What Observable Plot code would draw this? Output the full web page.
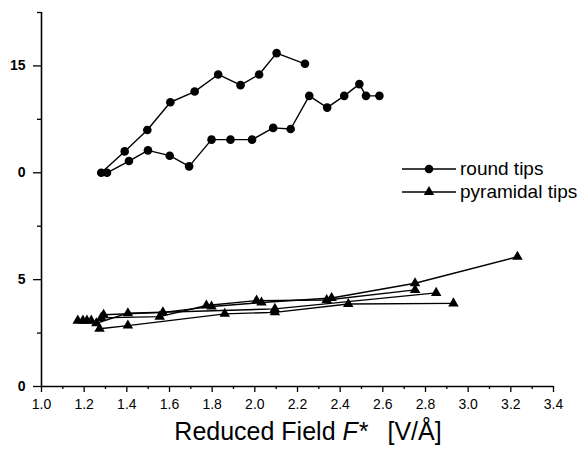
<!DOCTYPE html>
<html>
<head>
<meta charset="utf-8">
<script src="https://cdn.jsdelivr.net/npm/d3@7"></script>
<script src="https://cdn.jsdelivr.net/npm/@observablehq/plot@0.6"></script>
<style>
  html, body { margin: 0; padding: 0; background: #fff; }
  #chart svg { display: block; }
</style>
</head>
<body>
<div id="chart"></div>
<script>
// ---- data ----
const roundA_x = [1.280, 1.390, 1.496, 1.604, 1.718, 1.828, 1.933, 2.020, 2.102, 2.235];
const roundA_y = [10.0, 11.0, 12.0, 13.3, 13.8, 14.6, 14.1, 14.6, 15.6, 15.1];
const roundB_x = [1.307, 1.410, 1.499, 1.601, 1.692, 1.797, 1.886, 1.987, 2.086, 2.168, 2.255, 2.339, 2.419, 2.490, 2.521, 2.584];
const roundB_y = [10.0, 10.55, 11.05, 10.8, 10.3, 11.55, 11.55, 11.55, 12.1, 12.05, 13.6, 13.05, 13.6, 14.15, 13.6, 13.6];

const pyr1_x = [1.291, 1.569, 1.797, 2.031, 2.360, 2.751, 3.231];
const pyr1_y = [3.36, 3.47, 3.74, 3.93, 4.14, 4.83, 6.07];
const pyr2_x = [1.280, 1.554, 1.773, 2.008, 2.337, 2.751];
const pyr2_y = [3.21, 3.27, 3.79, 4.02, 4.05, 4.52];
const pyr3_x = [1.170, 1.194, 1.213, 1.233, 1.257, 1.405, 2.094, 2.850];
const pyr3_y = [3.08, 3.08, 3.08, 3.08, 2.96, 3.43, 3.63, 4.38];
const pyr4_x = [1.272, 1.405, 1.859, 2.094, 2.438, 2.931];
const pyr4_y = [2.70, 2.85, 3.40, 3.47, 3.86, 3.89];

const xTicks = [1.0, 1.2, 1.4, 1.6, 1.8, 2.0, 2.2, 2.4, 2.6, 2.8, 3.0, 3.2, 3.4];
const xTickLabels = ["1.0", "1.2", "1.4", "1.6", "1.8", "2.0", "2.2", "2.4", "2.6", "2.8", "3.0", "3.2", "3.4"];
const xMinor = [1.1, 1.3, 1.5, 1.7, 1.9, 2.1, 2.3, 2.5, 2.7, 2.9, 3.1, 3.3];
const yTicks = [0, 5, 10, 15];
const yTickLabels = ["0", "5", "0", "15"];
const yMinor = [2.5, 7.5, 12.5, 17.5];

const seriesNames = ["round tips", "pyramidal tips"];
const xLabelParts = ["Reduced Field ", "F*", "[V/Å]"];

// ---- build tables ----
function rows(xs, ys, series) { return xs.map((x, i) => ({x, y: ys[i], series})); }
const roundRows = [...rows(roundA_x, roundA_y, "rA"), ...rows(roundB_x, roundB_y, "rB")];
const pyrRows = [...rows(pyr1_x, pyr1_y, "p1"), ...rows(pyr2_x, pyr2_y, "p2"),
                 ...rows(pyr3_x, pyr3_y, "p3"), ...rows(pyr4_x, pyr4_y, "p4")];

const xFmt = new Map(xTicks.map((t, i) => [t, xTickLabels[i]]));
const yFmt = new Map(yTicks.map((t, i) => [t, yTickLabels[i]]));
const FONT = "'Liberation Sans', Arial, Helvetica, sans-serif";

const plot = Plot.plot({
  width: 585,
  height: 449,
  marginLeft: 41,
  marginRight: 32,
  marginTop: 12,
  marginBottom: 63,
  style: {fontFamily: FONT, background: "#fff", color: "#000"},
  x: {domain: [1.0, 3.4]},
  y: {domain: [0, 17.5]},
  marks: [
    Plot.axisX(xTicks, {tickSize: 6, tickPadding: 7, tickFormat: d => xFmt.get(d), fontSize: 14, label: null, strokeWidth: 1.3}),
    Plot.axisX(xMinor, {tickSize: 3, fill: "none", label: null, strokeWidth: 1.3}),
    Plot.axisY(yTicks, {tickSize: 8, tickPadding: 8, tickFormat: d => yFmt.get(d), fontSize: 14, fontWeight: "bold", label: null, strokeWidth: 1.3}),
    Plot.axisY(yMinor, {tickSize: 4, fill: "none", label: null, strokeWidth: 1.3}),
    Plot.ruleX([1.0], {stroke: "#000", strokeWidth: 1.6}),
    Plot.ruleY([0], {stroke: "#000", strokeWidth: 1.6}),
    Plot.line(pyrRows, {x: "x", y: "y", z: "series", stroke: "#000", strokeWidth: 1.4}),
    Plot.dot(pyrRows, {x: "x", y: "y", symbol: "triangle", r: 3.9, fill: "#000", stroke: "none"}),
    Plot.line(roundRows, {x: "x", y: "y", z: "series", stroke: "#000", strokeWidth: 1.4}),
    Plot.dot(roundRows, {x: "x", y: "y", symbol: "circle", r: 4.3, fill: "#000", stroke: "none"})
  ]
});

document.getElementById("chart").appendChild(plot);

// ---- x-axis title with italic F* ----
const svg = d3.select(plot);
const title = svg.append("text")
  .attr("x", 308).attr("y", 440)
  .attr("text-anchor", "middle")
  .attr("font-family", FONT)
  .attr("font-size", 25)
  .attr("fill", "#000");
title.append("tspan").text(xLabelParts[0]);
title.append("tspan").attr("font-style", "italic").text(xLabelParts[1]);
title.append("tspan").attr("dx", 20).text(xLabelParts[2]);

// ---- legend ----
const leg = svg.append("g").attr("font-family", FONT).attr("font-size", 19).attr("text-anchor", "start");
seriesNames.forEach((name, i) => {
  const cy = 169 + i * 23;
  leg.append("line").attr("x1", 402).attr("x2", 456).attr("y1", cy).attr("y2", cy)
    .attr("stroke", "#000").attr("stroke-width", 1.4);
  if (i === 0) {
    leg.append("circle").attr("cx", 429).attr("cy", cy).attr("r", 4.3).attr("fill", "#000");
  } else {
    leg.append("path").attr("transform", `translate(429,${cy})`)
      .attr("d", d3.symbol(d3.symbolTriangle, Math.PI * 3.9 * 3.9)()).attr("fill", "#000");
  }
  leg.append("text").attr("x", 460).attr("y", cy + 6).attr("text-anchor", "start").attr("fill", "#000").text(name);
});
</script>
</body>
</html>
